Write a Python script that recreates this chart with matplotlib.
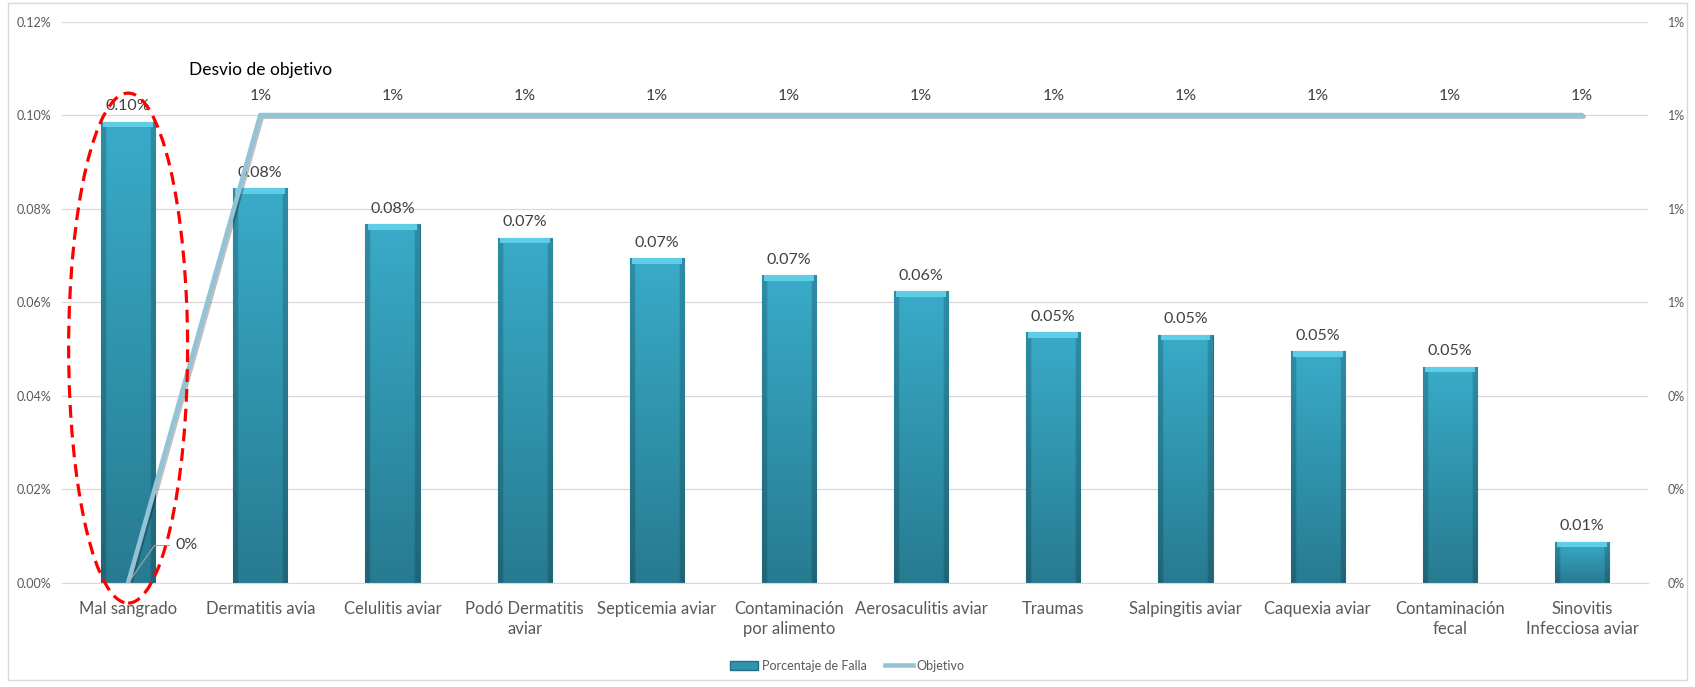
import matplotlib
matplotlib.use('Agg')
import matplotlib.pyplot as plt
import numpy as np
from matplotlib.patches import Ellipse, Rectangle, Patch
from matplotlib.lines import Line2D
from matplotlib.ticker import FuncFormatter, MultipleLocator
import matplotlib.patheffects as pe

plt.rcParams['font.family'] = ['Lato', 'DejaVu Sans']

categorias = ['Mal sangrado', 'Dermatitis avia', 'Celulitis aviar',
              'Podó Dermatitis\naviar', 'Septicemia aviar',
              'Contaminación\npor alimento', 'Aerosaculitis aviar', 'Traumas',
              'Salpingitis aviar', 'Caquexia aviar', 'Contaminación\nfecal',
              'Sinovitis\nInfecciosa aviar']
# porcentaje de falla (fraccion)
falla = [0.000986, 0.000844, 0.000767, 0.000738, 0.000694, 0.000658,
         0.000624, 0.000536, 0.000531, 0.000495, 0.000462, 0.000088]
# objetivo (eje secundario)
objetivo = [0.0, 0.01, 0.01, 0.01, 0.01, 0.01, 0.01, 0.01, 0.01, 0.01, 0.01, 0.01]

gris = '#595959'
rejilla = '#d9d9d9'
linea_col = '#92c4d6'

fig = plt.figure(figsize=(16.95, 6.87), dpi=100)
ax = fig.add_axes([0.0366, 0.1514, 0.9357, 0.8173])
x = np.arange(len(categorias))

bars = ax.bar(x, falla, width=0.41, color='#2f93ad', edgecolor='#236f84',
              linewidth=0.8, zorder=2)

# degradado vertical de cada barra
top_c = np.array([0x39, 0xab, 0xc8]) / 255
bot_c = np.array([0x27, 0x7b, 0x91]) / 255
ty = np.linspace(0, 1, 64)[:, None, None]
tx = np.linspace(0, 1, 32)[None, :, None]
grad = bot_c * (1 - ty) + top_c * ty
edge = np.where((tx < 0.07) | (tx > 0.93), 0.82, 1.0)
grad = np.clip(grad * edge, 0, 1)

ymax = 0.0012
bevel = ymax * 0.010
for b in bars:
    x0 = b.get_x()
    w = b.get_width()
    h = b.get_height()
    im = ax.imshow(grad, extent=[x0, x0 + w, 0, h], origin='lower',
                   aspect='auto', zorder=2.1, interpolation='bilinear')
    im.set_clip_path(b)
    ax.add_patch(Rectangle((x0 + w * 0.04, h - bevel), w * 0.92, bevel,
                           facecolor='#5fcde6', edgecolor='none', zorder=2.2))
    ax.annotate(f'{h * 100:.2f}%', (b.get_x() + w / 2, h), xytext=(0, 6),
                textcoords='offset points', ha='center', va='bottom',
                fontsize=11.5, color='#404040', zorder=5)

ax.set_xlim(-0.5, len(categorias) - 0.5)
ax.set_ylim(0, ymax)
ax.yaxis.set_major_locator(MultipleLocator(0.0002))
ax.yaxis.set_major_formatter(FuncFormatter(lambda v, p: f'{v * 100:.2f}%'))
ax.grid(axis='y', color=rejilla, linewidth=0.9, zorder=0)
ax.set_axisbelow(True)
ax.set_xticks(x)
ax.set_xticklabels(categorias, fontsize=12, color=gris, linespacing=1.3)
ax.tick_params(axis='x', length=0, pad=13)
ax.tick_params(axis='y', length=0, labelsize=9, labelcolor=gris, pad=8)
for s in ax.spines.values():
    s.set_visible(False)
ax.spines['bottom'].set_visible(True)
ax.spines['bottom'].set_color(rejilla)

ax2 = ax.twinx()
ax2.plot(x, objetivo, color=linea_col, linewidth=3.3, solid_capstyle='round',
         zorder=3, path_effects=[pe.SimpleLineShadow(offset=(1.2, -1.2), alpha=0.25),
                                 pe.Normal()])
ax2.set_ylim(0, 0.012)
ax2.yaxis.set_major_locator(MultipleLocator(0.002))
ax2.yaxis.set_major_formatter(FuncFormatter(lambda v, p: f'{v * 100:.0f}%'))
ax2.tick_params(axis='y', length=0, labelsize=9, labelcolor=gris, pad=14)
for s in ax2.spines.values():
    s.set_visible(False)

for xi, v in zip(x, objetivo):
    if v == 0:
        ax2.annotate(f'{v * 100:.0f}%', (xi, v), xytext=(34, 27),
                     textcoords='offset points', ha='left', va='center',
                     fontsize=11.5, color='#404040',
                     arrowprops=dict(arrowstyle='-', color='#a6a6a6', lw=0.8,
                                     shrinkA=2, shrinkB=0,
                                     connectionstyle='angle,angleA=0,angleB=55,rad=0'))
    else:
        ax2.annotate(f'{v * 100:.0f}%', (xi, v), xytext=(0, 9),
                     textcoords='offset points', ha='center', va='bottom',
                     fontsize=11.5, color='#404040')
ax2.annotate('Desvio de objetivo', (x[1], objetivo[1]), xytext=(0, 27),
             textcoords='offset points', ha='center', va='bottom',
             fontsize=12.5, color='black')

# resaltado del primer punto
ax2.add_patch(Ellipse((0, 0.000502), 0.9, 0.00109, transform=ax.transData,
                      fill=False, edgecolor='#ff0000', linewidth=2.3,
                      linestyle=(0, (4, 2.2)), zorder=6, clip_on=False))

handles = [Patch(facecolor='#2f93ad', edgecolor='#236f84', label='Porcentaje de Falla'),
           Line2D([], [], color=linea_col, linewidth=3.3, label='Objetivo')]
fig.legend(handles=handles, loc='center', bbox_to_anchor=(0.5, 0.031), ncol=2,
           frameon=False, fontsize=9, labelcolor=gris, handlelength=2.2,
           columnspacing=1.5, handletextpad=0.3)

fig.add_artist(Rectangle((0.0045, 0.01), 0.991, 0.985, transform=fig.transFigure,
                         fill=False, edgecolor=rejilla, linewidth=1))

fig.savefig('out.png', dpi=100)
